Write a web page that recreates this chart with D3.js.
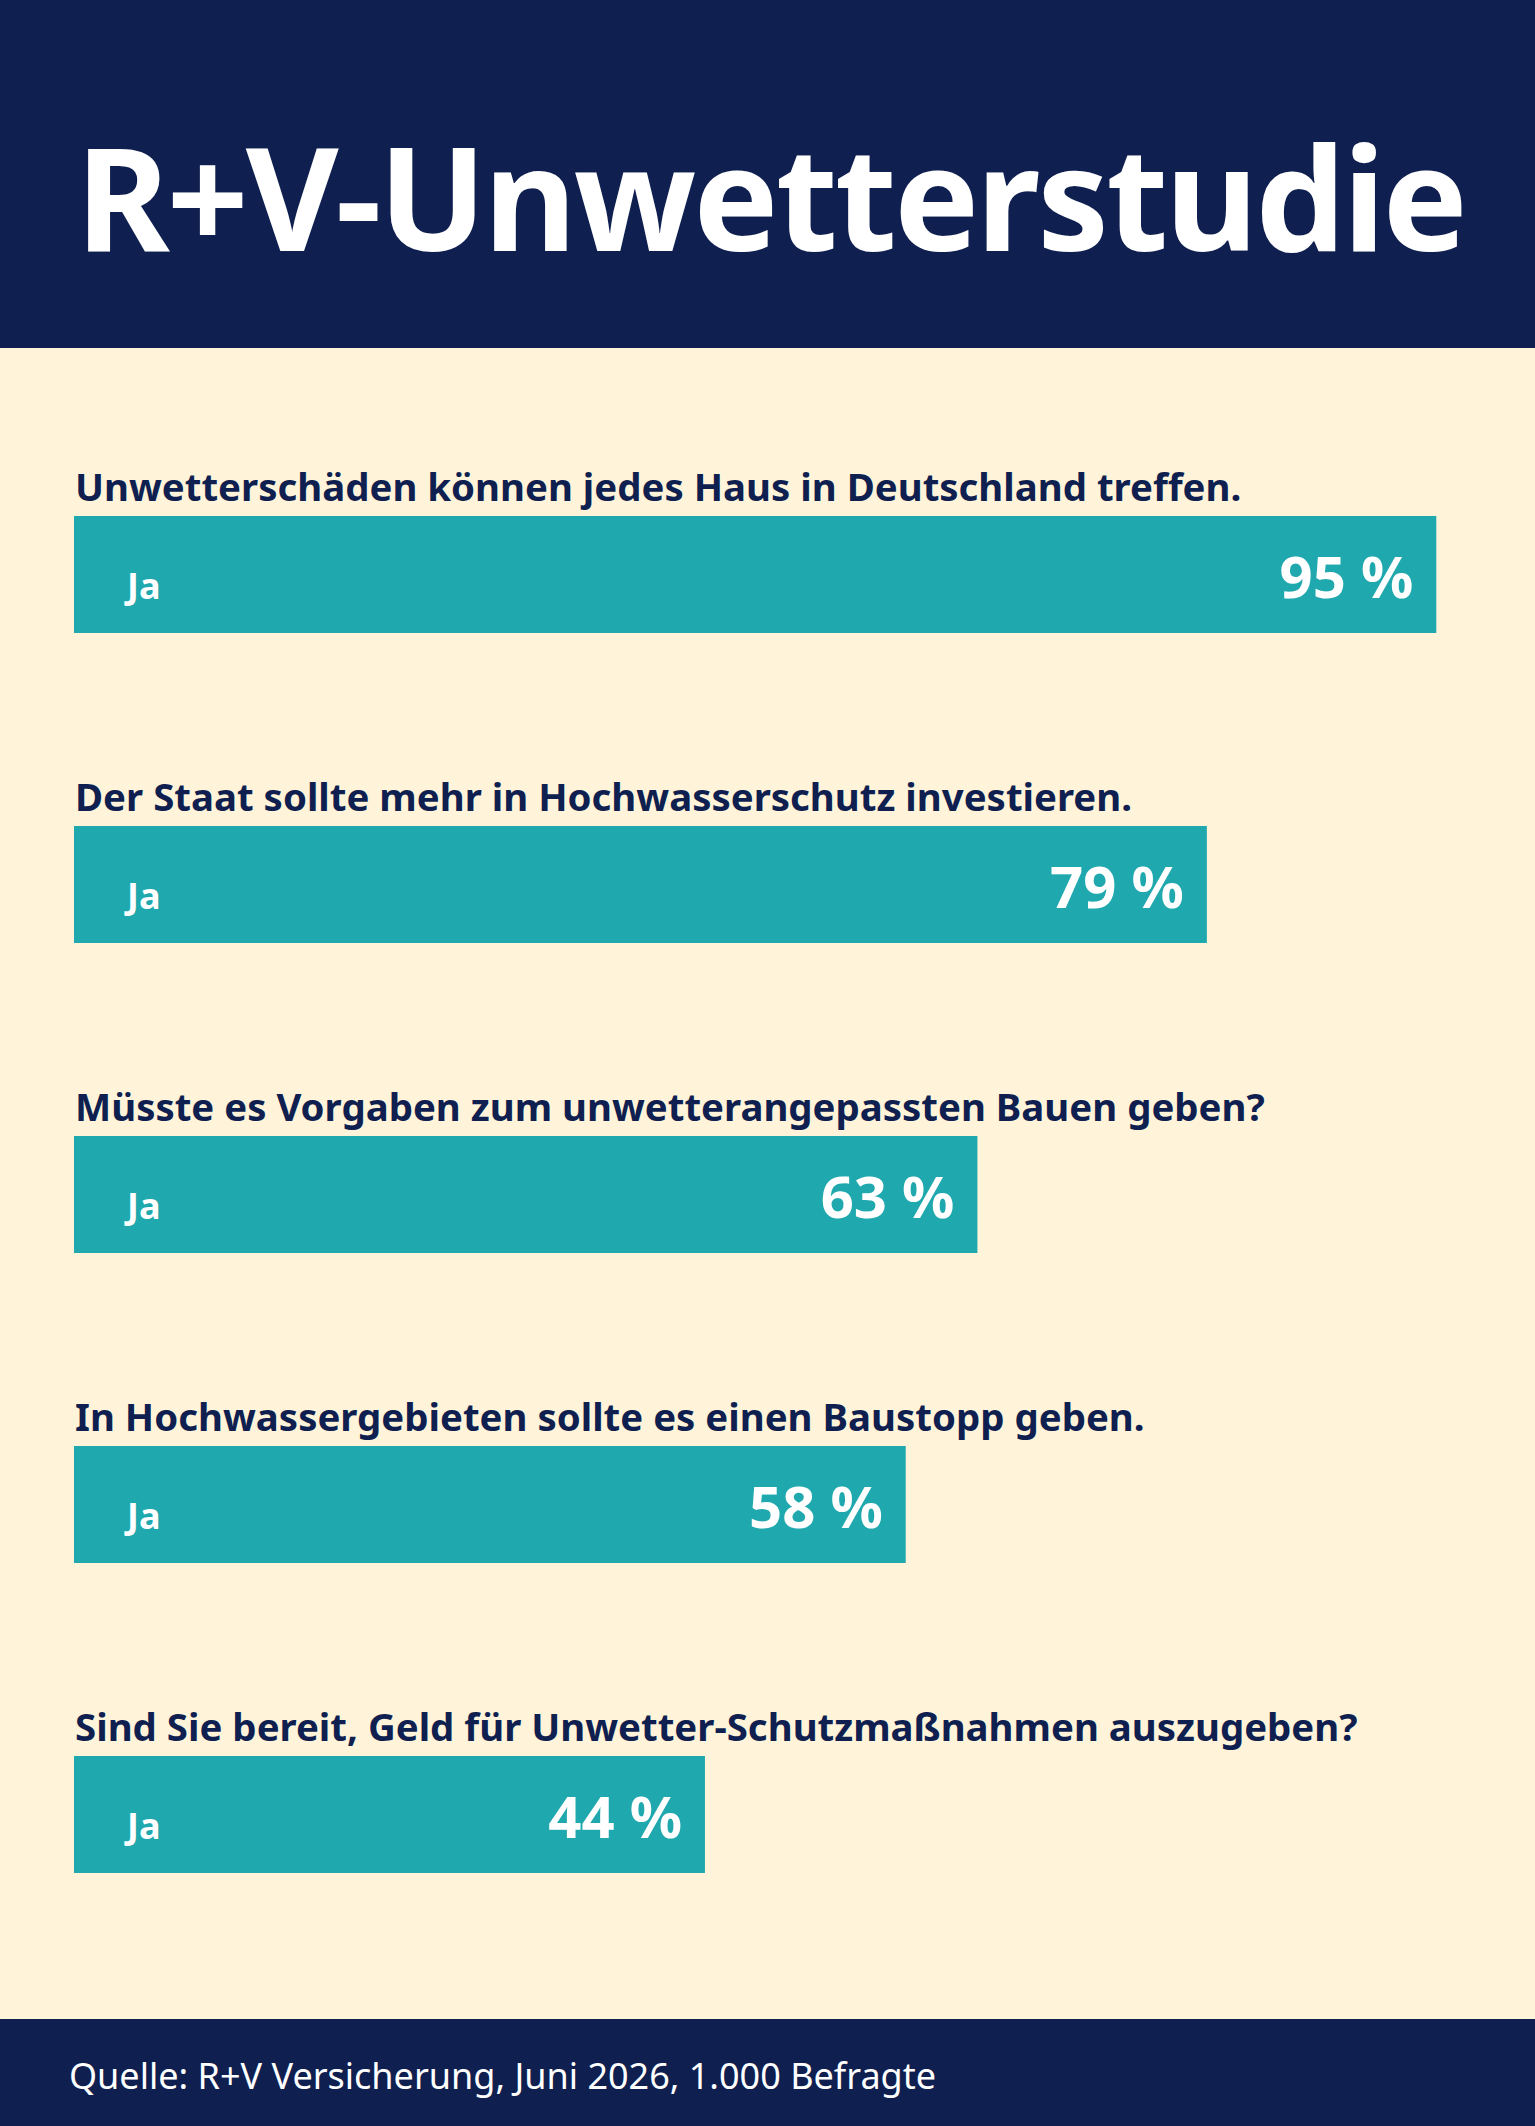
<!DOCTYPE html>
<html>
<head>
  <meta charset="utf-8">
  <style>
    body { margin: 0; background: #fff4da; }
    svg { display: block; }
    text { font-family: "Noto Sans", sans-serif; }
  </style>
</head>
<body>
  <script src="https://d3js.org/d3.v7.min.js"></script>
  <script>
    const title = "R+V-Unwetterstudie";
    const questions = [
      "Unwetterschäden können jedes Haus in Deutschland treffen.",
      "Der Staat sollte mehr in Hochwasserschutz investieren.",
      "Müsste es Vorgaben zum unwetterangepassten Bauen geben?",
      "In Hochwassergebieten sollte es einen Baustopp geben.",
      "Sind Sie bereit, Geld für Unwetter-Schutzmaßnahmen auszugeben?"
    ];
    const answers = ["Ja", "Ja", "Ja", "Ja", "Ja"];
    const values = [95, 79, 63, 58, 44];
    const source = "Quelle: R+V Versicherung, Juni 2026, 1.000 Befragte";

    const w = 1535;
    const h = 2126;
    const navy = "#0f1f50";
    const cream = "#fff4da";
    const teal = "#1fa8ae";

    const svg = d3.select("body")
      .append("svg")
      .attr("width", w)
      .attr("height", h);

    svg.append("rect").attr("width", w).attr("height", h).attr("fill", cream);

    // header
    svg.append("rect").attr("width", w).attr("height", 348).attr("fill", navy);
    const titleText = svg.append("text")
      .attr("x", 76)
      .attr("y", 251)
      .attr("fill", "#fff")
      .attr("font-size", 143)
      .attr("font-weight", 700)
      .text(title);
    // nudge letter spacing so the title spans the same width as the original
    const natural = titleText.node().getComputedTextLength();
    titleText.attr("letter-spacing", (1389 - natural) / title.length);

    // footer
    svg.append("rect").attr("y", 2019).attr("width", w).attr("height", h - 2019).attr("fill", navy);
    svg.append("text")
      .attr("x", 69)
      .attr("y", 2089)
      .attr("fill", "#fff")
      .attr("font-size", 36)
      .text(source);

    const xScale = d3.scaleLinear()
      .domain([0, 100])
      .range([74, 1508]);

    const yScale = d3.scaleBand()
      .domain(d3.range(questions.length))
      .range([516, 516 + 310 * questions.length])
      .paddingInner(0);

    const barH = 117;

    const g = svg.selectAll("g.row")
      .data(questions)
      .enter()
      .append("g")
      .attr("class", "row")
      .attr("transform", (d, i) => "translate(0," + yScale(i) + ")");

    g.append("text")
      .attr("x", 75)
      .attr("y", -15)
      .attr("fill", navy)
      .attr("font-size", 38.4)
      .attr("font-weight", 700)
      .text((d) => d);

    g.append("rect")
      .attr("x", xScale(0))
      .attr("y", 0)
      .attr("width", (d, i) => xScale(values[i]) - xScale(0))
      .attr("height", barH)
      .attr("fill", teal);

    g.append("text")
      .attr("x", 127)
      .attr("y", 83)
      .attr("fill", "#fff")
      .attr("font-size", 36)
      .attr("font-weight", 700)
      .text((d, i) => answers[i]);

    g.append("text")
      .attr("x", (d, i) => xScale(values[i]) - 23)
      .attr("y", 82)
      .attr("text-anchor", "end")
      .attr("fill", "#fff")
      .attr("font-size", 58)
      .attr("font-weight", 700)
      .text((d, i) => values[i] + " %");
  </script>
</body>
</html>
